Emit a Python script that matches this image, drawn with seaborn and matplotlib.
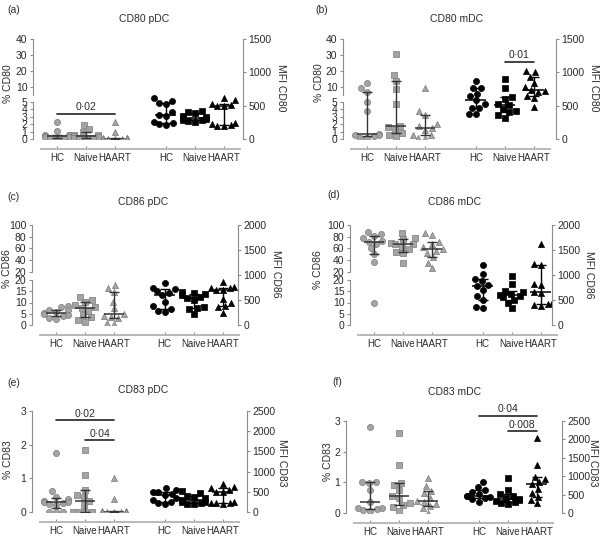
import numpy as np
import matplotlib
matplotlib.use("Agg")
import matplotlib.pyplot as plt
import seaborn as sns

sns.set_style("ticks")
plt.rcParams['font.family'] = ['Liberation Sans', 'DejaVu Sans']

GROUPS = ["HC", "Naive", "HAART"]
X_POS = [0, 1, 2, 3.75, 4.75, 5.75]

# values per group: HC, Naive, HAART  (% positive on left axis, MFI on right axis)
A_PCT = [[2.3, 1.1, 0.6, 0.5, 0.5, 0.4, 0.3, 0.3, 0.2, 0.2, 0.1],
         [1.9, 1.3, 0.9, 0.6, 0.5, 0.4, 0.3, 0.2, 0.1, 0.1, 0.1],
         [2.3, 1.0, 0.2, 0.1, 0.1, 0.05, 0.05, 0.0, 0.0, 0.0, 0.0]]
A_MFI = [[620, 570, 540, 530, 400, 365, 340, 260, 240, 225, 210],
         [420, 400, 390, 350, 330, 310, 300, 290, 280, 270, 260],
         [610, 580, 530, 510, 500, 490, 240, 220, 210, 200, 200]]

B_PCT = [[12.5, 9.2, 6.8, 4.9, 3.7, 0.65, 0.6, 0.5, 0.4, 0.2, 0.1],
         [30.5, 17.5, 13.5, 8.75, 4.7, 1.8, 1.6, 1.2, 0.8, 0.6, 0.3],
         [9.2, 3.7, 3.2, 2.0, 1.7, 1.5, 1.2, 0.6, 0.5, 0.2, 0.1]]
B_MFI = [[865, 765, 760, 680, 640, 580, 530, 470, 460, 380, 373],
         [895, 765, 630, 600, 530, 517, 457, 418, 398, 358, 318],
         [1020, 1005, 930, 845, 780, 740, 720, 700, 640, 615, 480]]

C_PCT = [[8.4, 8.1, 6.7, 6.5, 5.9, 5.5, 4.9, 4.4, 4.0, 3.3, 2.8],
         [12.6, 11.1, 10.4, 8.9, 7.9, 7.6, 6.4, 4.4, 3.4, 2.2, 1.5],
         [17.8, 16.3, 14.8, 10.4, 7.4, 4.7, 4.0, 3.7, 3.0, 0.7, 0.5]]
C_MFI = [[847, 733, 713, 687, 647, 593, 467, 380, 313, 280, 260],
         [667, 647, 620, 600, 567, 533, 500, 367, 333, 313, 213],
         [867, 767, 750, 733, 710, 700, 513, 447, 380, 353, 247]]

D_PCT = [[88.6, 84.6, 81.2, 77, 73.2, 71.5, 67.5, 60, 49.8, 37.2, 9.6],
         [87, 77, 75.5, 70, 68, 67.5, 63, 58.3, 54.3, 51.5, 34.3],
         [87, 83, 71, 67.5, 62, 58.3, 55, 52.6, 44.6, 35.5, 25.8]]
D_MFI = [[1200, 1013, 913, 880, 800, 780, 700, 580, 500, 353, 333],
         [980, 820, 687, 667, 620, 600, 580, 553, 500, 447, 333],
         [1620, 1220, 1200, 820, 800, 667, 647, 433, 420, 400, 380]]

E_PCT = [[1.76, 0.62, 0.46, 0.39, 0.33, 0.31, 0.29, 0.27, 0.25, 0.22, 0.0, 0.0, 0.0],
         [1.85, 1.1, 0.65, 0.5, 0.45, 0.33, 0.2, 0.0, 0.0, 0.0, 0.0],
         [1.0, 0.38, 0.02, 0.02, 0.01, 0.01, 0.0, 0.0, 0.0, 0.0, 0.0]]
E_MFI = [[586, 545, 503, 487, 437, 420, 338, 297, 256, 215, 190],
         [520, 462, 404, 380, 338, 297, 256, 240, 215, 200, 190],
         [685, 627, 586, 545, 503, 487, 256, 231, 215, 215, 198]]

F_PCT = [[2.82, 1.0, 1.0, 0.97, 0.75, 0.35, 0.17, 0.15, 0.13, 0.1, 0.07],
         [2.6, 1.57, 0.97, 0.91, 0.75, 0.57, 0.48, 0.32, 0.26, 0.21, 0.07],
         [1.15, 0.89, 0.72, 0.64, 0.5, 0.4, 0.37, 0.28, 0.22, 0.15, 0.0]]
F_MFI = [[852, 716, 625, 562, 520, 471, 460, 440, 399, 371, 308],
         [960, 625, 507, 471, 417, 380, 353, 326, 290, 263, 236],
         [2030, 1305, 988, 924, 834, 779, 652, 535, 444, 353, 263]]

# significance bars: (axis, from group, to group, height, p value)
SIG_A = [("pct", 0, 2, 3.4, "0·02")]
SIG_B = [("mfi", 4, 5, 1160, "0·01")]
SIG_E = [("pct", 0, 2, 2.73, "0·02"), ("pct", 1, 2, 2.14, "0·04")]
SIG_F = [("mfi", 3, 5, 2640, "0·04"), ("mfi", 4, 5, 2230, "0·008")]

MARKERS = ["o", "s", "^"]
GREY_FACE = "#a4a4a4"
GREY_EDGE = "#7a7a7a"
SPINE = "#8c8c8c"
XLINE = "#b9b9b9"
TEXT = "#2a2a2a"
FS = 7.5

W, H = 603, 538
PX_UNIT = 29


def fx(px):
    return px / W


def fy(py):
    return 1 - py / H


def broken_scale(b, top, f_low, gap):
    f_up = 1 - f_low - gap

    def fwd(y):
        y = np.asarray(y, dtype=float)
        return np.where(y <= b, y / b * f_low, f_low + gap + (y - b) / (top - b) * f_up)

    def inv(u):
        u = np.asarray(u, dtype=float)
        return np.where(u <= f_low, u / f_low * b,
                        np.where(u < f_low + gap, b, b + (u - f_low - gap) / f_up * (top - b)))
    return fwd, inv


def swarm(ax, x, vals, marker, face, edge):
    sns.swarmplot(x=np.full(len(vals), x), y=vals, native_scale=True, orient="x", ax=ax,
                  marker=marker, color=face, edgecolor=edge, linewidth=0.5, size=4.4,
                  zorder=2, legend=False)


def median_iqr(ax, x, vals, color):
    q1, med, q3 = np.percentile(vals, [25, 50, 75], method="weibull")
    ax.errorbar(x, med, yerr=[[med - q1], [q3 - med]], fmt="none", ecolor=color,
                elinewidth=1.0, capsize=3.5, capthick=1.0, zorder=4)
    ax.hlines(med, x - 0.36, x + 0.36, color=color, lw=1.1, zorder=4)


PANELS = [
    dict(letter="(a)", title="CD80 pDC", name="CD80", pct=A_PCT, mfi=A_MFI,
         split=(5, 40, 0.373, 0.067), lo=[0, 1, 2, 3, 4, 5], hi=[10, 20, 30, 40],
         mfi_top=1500, rect=(33, 243, 39, 139), sig=SIG_A,
         letter_xy=(7, 10), title_xy=(144, 19), ylab_xy=(8, 84), rlab_xy=(281, 88)),
    dict(letter="(b)", title="CD80 mDC", name="CD80", pct=B_PCT, mfi=B_MFI,
         split=(5, 40, 0.373, 0.067), lo=[0, 1, 2, 3, 4, 5], hi=[10, 20, 30, 40],
         mfi_top=1500, rect=(343, 556, 39, 139), sig=SIG_B,
         letter_xy=(315, 10), title_xy=(457, 19), ylab_xy=(319, 83), rlab_xy=(594, 88)),
    dict(letter="(c)", title="CD86 pDC", name="CD86", pct=C_PCT, mfi=C_MFI,
         split=(20, 100, 0.45, 0.083), lo=[0, 5, 10, 15, 20], hi=[20, 40, 60, 80, 100],
         mfi_top=2000, rect=(32, 238, 225, 325), sig=[],
         letter_xy=(7, 197), title_xy=(143, 202), ylab_xy=(7, 269), rlab_xy=(276, 274)),
    dict(letter="(d)", title="CD86 mDC", name="CD86", pct=D_PCT, mfi=D_MFI,
         split=(20, 100, 0.45, 0.083), lo=[0, 5, 10, 15, 20], hi=[20, 40, 60, 80, 100],
         mfi_top=2000, rect=(350, 552, 225, 325), sig=[],
         letter_xy=(327, 195), title_xy=(455, 202), ylab_xy=(318, 270), rlab_xy=(589, 275)),
    dict(letter="(e)", title="CD83 pDC", name="CD83", pct=E_PCT, mfi=E_MFI,
         split=None, lo=[0, 1, 2, 3], hi=[], mfi_top=2500,
         rect=(32, 247, 411, 512), sig=SIG_E,
         letter_xy=(7, 383), title_xy=(143, 390), ylab_xy=(8, 460), rlab_xy=(282, 463)),
    dict(letter="(f)", title="CD83 mDC", name="CD83", pct=F_PCT, mfi=F_MFI,
         split=None, lo=[0, 1, 2, 3], hi=[], mfi_top=2500,
         rect=(346, 562, 421, 513), sig=SIG_F,
         letter_xy=(332, 382), title_xy=(455, 392), ylab_xy=(328, 462), rlab_xy=(593, 463)),
]

fig = plt.figure(figsize=(W / 100, H / 100), dpi=100)

for p in PANELS:
    left, right, top, bottom = p["rect"]
    ax = fig.add_axes([fx(left), fy(bottom), (right - left) / W, (bottom - top) / H])
    ax2 = ax.twinx()

    for i in range(3):
        swarm(ax, X_POS[i], p["pct"][i], MARKERS[i], GREY_FACE, GREY_EDGE)
        median_iqr(ax, X_POS[i], p["pct"][i], "#333333")
        swarm(ax2, X_POS[i + 3], p["mfi"][i], MARKERS[i], "black", "black")
        median_iqr(ax2, X_POS[i + 3], p["mfi"][i], "black")

    xl = -24 / PX_UNIT
    ax.set_xlim(xl, xl + (right - left) / PX_UNIT)

    # left axis (broken into a low and a high segment for a-d)
    if p["split"] is not None:
        b, ytop, f_low, gap = p["split"]
        ax.set_yscale("function", functions=broken_scale(b, ytop, f_low, gap))
        ax.set_ylim(0, ytop)
        eps = 1e-6 * ytop
        hi_pos = [t + eps if t == b else t for t in p["hi"]]
        ax.set_yticks(p["lo"] + hi_pos, [str(t) for t in p["lo"] + p["hi"]])
        ax.spines["left"].set_visible(False)
        tr = ax.get_yaxis_transform()
        ax.plot([0, 0], [0, b], transform=tr, color=SPINE, lw=0.8, clip_on=False)
        ax.plot([0, 0], [b + eps, ytop], transform=tr, color=SPINE, lw=0.8, clip_on=False)
    else:
        ax.set_ylim(0, p["lo"][-1])
        ax.set_yticks(p["lo"], [str(t) for t in p["lo"]])
        ax.spines["left"].set_color(SPINE)
        ax.spines["left"].set_linewidth(0.8)

    ax2.set_ylim(0, p["mfi_top"])
    ax2.set_yticks(np.arange(0, p["mfi_top"] + 1, 500))

    for s in ["top", "right"]:
        ax.spines[s].set_visible(False)
    for s in ["top", "left", "bottom"]:
        ax2.spines[s].set_visible(False)
    ax2.spines["right"].set_color(SPINE)
    ax2.spines["right"].set_linewidth(0.8)

    ax.spines["bottom"].set_position(("outward", 7.5))
    ax.spines["bottom"].set_bounds(-0.55, 6.3)
    ax.spines["bottom"].set_color(XLINE)
    ax.spines["bottom"].set_linewidth(1.4)
    ax.set_xticks(X_POS, GROUPS + GROUPS)

    ax.tick_params(axis="y", direction="out", length=2.5, width=0.8, color=SPINE,
                   labelsize=FS, labelcolor=TEXT, pad=1.5)
    ax2.tick_params(axis="y", direction="out", length=2.5, width=0.8, color=SPINE,
                    labelsize=FS, labelcolor=TEXT, pad=1.5)
    ax.tick_params(axis="x", direction="in", length=2.5, width=0.8, color=SPINE,
                   labelsize=7, labelcolor=TEXT, pad=2.5)
    ax.set_xlabel("")
    ax.set_ylabel("")
    ax2.set_ylabel("")

    for side, i1, i2, yv, txt in p["sig"]:
        tgt = ax if side == "pct" else ax2
        tgt.plot([X_POS[i1], X_POS[i2]], [yv, yv], color="#222222", lw=1.2,
                 clip_on=False, zorder=5)
        tgt.annotate(txt, xy=((X_POS[i1] + X_POS[i2]) / 2, yv), xytext=(0, 1.0),
                     textcoords="offset points", ha="center", va="bottom",
                     fontsize=FS, color=TEXT, annotation_clip=False)

    lx, ly = p["letter_xy"]
    fig.text(fx(lx), fy(ly), p["letter"], ha="left", va="center", fontsize=FS, color=TEXT)
    tx, ty = p["title_xy"]
    fig.text(fx(tx), fy(ty), p["title"], ha="center", va="center", fontsize=FS, color=TEXT)
    yx, yy = p["ylab_xy"]
    fig.text(fx(yx), fy(yy), "% " + p["name"], rotation=90, ha="center", va="center",
             fontsize=FS, color=TEXT)
    rx, ry = p["rlab_xy"]
    fig.text(fx(rx), fy(ry), "MFI " + p["name"], rotation=270, ha="center", va="center",
             fontsize=FS, color=TEXT)

fig.savefig("out.png", dpi=100)
